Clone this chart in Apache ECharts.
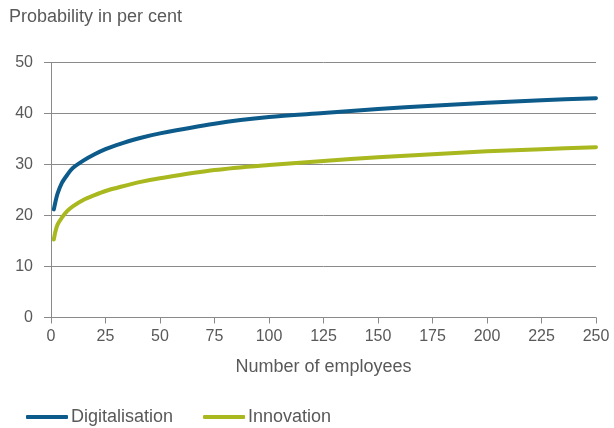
<!DOCTYPE html>
<html>
<head>
<meta charset="utf-8">
<script src="https://cdn.jsdelivr.net/npm/echarts@6/dist/echarts.min.js"></script>
<style>
  html, body { margin: 0; padding: 0; background: #fff; }
  #chart { width: 614px; height: 428px; }
</style>
</head>
<body>
<div id="chart"></div>
<script>
// Number of employees (x) and the estimated probabilities (per cent)
const employees = [1.3, 2, 3, 5, 7.5, 10, 15, 20, 25, 30, 40, 50, 75, 100, 125, 150, 175, 200, 225, 250];
const digitalisation = [21.2, 22.6, 24.3, 26.4, 28.0, 29.3, 30.8, 32.0, 33.0, 33.8, 35.1, 36.1, 38.0, 39.3, 40.1, 40.9, 41.5, 42.1, 42.6, 43.0];
const innovation = [15.3, 16.8, 18.2, 19.6, 20.9, 21.8, 23.1, 24.0, 24.8, 25.4, 26.5, 27.3, 28.9, 29.9, 30.7, 31.4, 32.0, 32.6, 33.0, 33.4];
const seriesNames = ['Digitalisation', 'Innovation'];
const xTicks = { min: 0, max: 250, step: 25 };
const yTicks = { min: 0, max: 50, step: 10 };

const textColor = '#595959';
const axisGrey = '#8a8a8a';
const font = '"Liberation Sans", Arial, sans-serif';

const pairs = (ys) => employees.map((x, i) => [x, ys[i]]);

const chart = echarts.init(document.getElementById('chart'), null, { renderer: 'canvas' });
chart.setOption({
  animation: false,
  textStyle: { fontFamily: font },
  grid: { left: 51, right: 18, top: 62.5, bottom: 110.5, containLabel: false },
  title: {
    text: 'Probability in per cent',
    left: 4, top: 3,
    textStyle: { fontFamily: font, fontSize: 18, fontWeight: 'normal', color: textColor }
  },
  legend: {
    left: 21, top: 403,
    itemWidth: 42, itemHeight: 4, itemGap: 30,
    icon: 'roundRect',
    textStyle: { fontFamily: font, fontSize: 18, color: textColor, padding: [0, 0, 0, -2] },
    data: seriesNames
  },
  xAxis: {
    type: 'value',
    min: xTicks.min, max: xTicks.max, interval: xTicks.step,
    name: 'Number of employees',
    nameLocation: 'middle', nameGap: 41,
    nameTextStyle: { fontFamily: font, fontSize: 18, color: textColor },
    axisLine: { show: true, lineStyle: { color: axisGrey, width: 1 } },
    axisTick: { show: true, length: 6, lineStyle: { color: axisGrey } },
    axisLabel: { fontFamily: font, fontSize: 16, color: textColor, margin: 11 },
    splitLine: { show: false }
  },
  yAxis: {
    type: 'value',
    min: yTicks.min, max: yTicks.max, interval: yTicks.step,
    axisLine: { show: true, lineStyle: { color: axisGrey, width: 1 } },
    axisTick: { show: true, length: 7, lineStyle: { color: axisGrey } },
    axisLabel: { fontFamily: font, fontSize: 16, color: textColor, margin: 18 },
    splitLine: { show: true, lineStyle: { color: axisGrey, width: 1 } }
  },
  series: [
    {
      name: seriesNames[0], type: 'line', data: pairs(digitalisation),
      smooth: 0.3, showSymbol: false, symbol: 'none',
      lineStyle: { color: '#0d5b8a', width: 4, cap: 'round', join: 'round' },
      itemStyle: { color: '#0d5b8a' }
    },
    {
      name: seriesNames[1], type: 'line', data: pairs(innovation),
      smooth: 0.3, showSymbol: false, symbol: 'none',
      lineStyle: { color: '#a8b81e', width: 4, cap: 'round', join: 'round' },
      itemStyle: { color: '#a8b81e' }
    }
  ]
});
</script>
</body>
</html>
